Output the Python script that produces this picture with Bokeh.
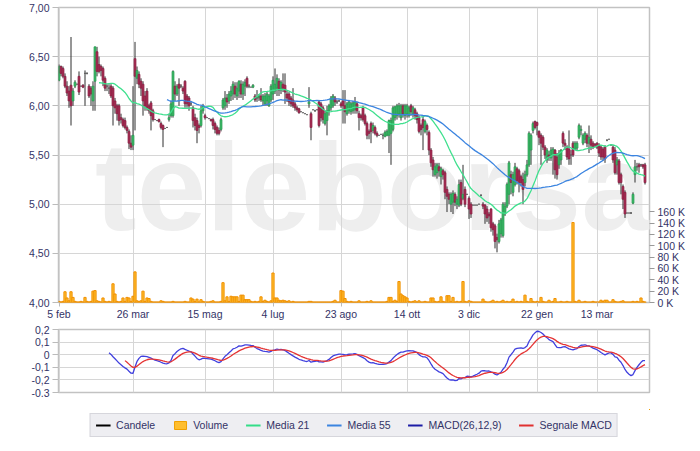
import numpy as np
from bokeh.plotting import figure
from bokeh.layouts import column
from bokeh.models import (ColumnDataSource, Range1d, LinearAxis, FixedTicker,
                          CustomJSTickFormatter, Label, Legend, LegendItem)
from bokeh.embed import file_html
from bokeh.resources import INLINE

# ---------------- data ----------------
date_ticks = [0, 37, 73, 107, 141, 174, 205, 239, 269]
date_labels = ["5 feb", "26 mar", "15 mag", "4 lug", "23 ago", "14 ott", "3 dic", "22 gen", "13 mar"]
price_ticks = [4.0, 4.5, 5.0, 5.5, 6.0, 6.5, 7.0]
volume_ticks = [0, 20, 40, 60, 80, 100, 120, 140, 160]
macd_ticks = [-0.3, -0.2, -0.1, 0.0, 0.1, 0.2]

open_ = [
    6.26, 6.40, 6.38, 6.30, 6.20, 6.15, 6.21, 6.05, 6.20, 6.22,
    6.30, 6.20, 6.21, 6.33, 6.33, 6.20, 6.18, 6.05, 6.25, 6.55,
    6.42, 6.40, 6.38, 6.28, 6.20, 6.18, 6.20, 6.18, 6.05, 6.00,
    6.00, 5.88, 5.86, 5.85, 5.78, 5.74, 5.62, 5.60, 6.48, 6.28,
    6.32, 6.25, 6.22, 6.10, 6.15, 6.00, 6.03, 5.95, 5.86, 5.85,
    5.86, 5.82, 5.80, 5.77, 5.78, 5.86, 5.90, 5.90, 6.20, 6.12,
    6.22, 6.20, 6.18, 6.25, 6.10, 6.08, 6.02, 5.98, 5.88, 5.85,
    5.80, 5.80, 5.95, 5.90, 5.88, 5.87, 5.86, 5.86, 5.82, 5.78,
    5.75, 5.76, 5.98, 6.00, 6.08, 6.05, 6.10, 6.12, 6.20, 6.10,
    6.15, 6.22, 6.12, 6.20, 6.28, 6.20, 6.19, 6.19, 6.10, 6.08,
    6.08, 6.10, 6.05, 6.02, 6.05, 6.00, 6.06, 6.12, 6.15, 6.18,
    6.25, 6.16, 6.22, 6.21, 6.12, 6.12, 6.08, 6.06, 6.02, 5.98,
    5.97, 5.94, 5.93, 5.92, 5.91, 6.02, 5.92, 5.96, 5.95, 5.96,
    6.04, 6.02, 5.98, 5.82, 5.85, 5.95, 5.98, 6.00, 6.08, 6.04,
    6.05, 6.02, 6.05, 6.00, 5.92, 5.95, 5.94, 5.95, 5.96, 6.02,
    5.92, 5.90, 5.98, 5.90, 5.82, 5.74, 5.82, 5.75, 5.78, 5.72,
    5.70, 5.71, 5.70, 5.69, 5.70, 5.70, 5.72, 5.76, 5.88, 5.90,
    5.92, 5.88, 6.00, 5.90, 5.92, 5.90, 6.00, 5.92, 5.96, 5.92,
    5.88, 5.80, 5.86, 5.74, 5.80, 5.73, 5.55, 5.45, 5.30, 5.32,
    5.38, 5.28, 5.34, 5.32, 5.15, 5.10, 5.00, 5.02, 5.10, 5.00,
    4.99, 5.22, 5.06, 5.15, 5.10, 5.06, 5.00, 4.99, 4.99, 4.99,
    5.00, 5.09, 5.00, 4.99, 4.95, 4.90, 4.95, 4.80, 4.78, 4.66,
    4.62, 4.70, 4.68, 4.90, 4.98, 5.10, 5.30, 5.12, 5.20, 5.36,
    5.34, 5.28, 5.25, 5.22, 5.30, 5.40, 5.55, 5.75, 5.84, 5.83,
    5.74, 5.70, 5.68, 5.58, 5.45, 5.50, 5.47, 5.50, 5.55, 5.48,
    5.40, 5.45, 5.72, 5.62, 5.58, 5.56, 5.50, 5.62, 5.56, 5.57,
    5.68, 5.75, 5.62, 5.66, 5.70, 5.62, 5.66, 5.62, 5.61, 5.62,
    5.60, 5.58, 5.56, 5.58, 5.65, 5.66, 5.60, 5.58, 5.55, 5.40,
    5.44, 5.30, 5.18, 5.12, 4.91, 4.91, 4.91, 5.01, 5.30, 5.38,
    5.40, 5.40, 5.40, 5.40,
]
high = [
    6.42, 6.41, 6.40, 6.33, 6.25, 6.20, 6.70, 6.18, 6.26, 6.22,
    6.35, 6.20, 6.22, 6.36, 6.34, 6.22, 6.20, 6.25, 6.60, 6.60,
    6.50, 6.42, 6.40, 6.30, 6.22, 6.22, 6.22, 6.20, 6.08, 6.02,
    6.02, 5.92, 5.88, 5.88, 5.80, 5.76, 5.70, 6.20, 6.65, 6.40,
    6.35, 6.28, 6.25, 6.15, 6.18, 6.02, 6.05, 5.97, 5.86, 5.85,
    5.87, 5.84, 5.81, 5.77, 5.78, 5.92, 6.05, 6.36, 6.25, 6.22,
    6.28, 6.22, 6.20, 6.26, 6.12, 6.10, 6.05, 6.00, 5.92, 5.88,
    5.82, 6.00, 6.02, 5.92, 5.88, 5.87, 5.87, 5.88, 5.84, 5.80,
    5.78, 5.88, 6.08, 6.15, 6.12, 6.15, 6.20, 6.25, 6.24, 6.24,
    6.26, 6.26, 6.25, 6.27, 6.30, 6.22, 6.19, 6.22, 6.12, 6.16,
    6.12, 6.18, 6.12, 6.13, 6.14, 6.12, 6.22, 6.30, 6.38, 6.32,
    6.28, 6.26, 6.33, 6.33, 6.15, 6.14, 6.10, 6.18, 6.04, 6.00,
    5.98, 5.94, 5.93, 5.92, 5.91, 6.19, 5.94, 5.96, 5.96, 5.96,
    6.06, 6.04, 6.00, 5.95, 6.00, 6.02, 6.10, 6.12, 6.10, 6.06,
    6.06, 6.04, 6.16, 6.16, 6.04, 6.06, 6.04, 6.05, 6.09, 6.04,
    5.95, 5.92, 6.00, 5.92, 5.84, 5.76, 5.84, 5.83, 5.80, 5.74,
    5.70, 5.71, 5.72, 5.75, 5.76, 5.86, 5.88, 6.00, 6.00, 6.02,
    6.03, 6.02, 6.02, 6.02, 6.02, 6.00, 6.02, 6.00, 5.98, 5.94,
    5.90, 5.82, 5.89, 5.86, 5.82, 5.75, 5.57, 5.48, 5.42, 5.42,
    5.42, 5.38, 5.36, 5.34, 5.18, 5.12, 5.12, 5.14, 5.12, 5.08,
    5.25, 5.25, 5.40, 5.18, 5.10, 5.08, 5.02, 4.99, 4.99, 4.99,
    5.00, 5.10, 5.02, 5.00, 4.98, 4.92, 4.96, 4.82, 4.80, 4.70,
    4.84, 4.86, 5.02, 5.02, 5.22, 5.44, 5.34, 5.33, 5.42, 5.38,
    5.36, 5.30, 5.32, 5.34, 5.45, 5.74, 5.72, 5.84, 5.85, 5.84,
    5.75, 5.72, 5.70, 5.60, 5.57, 5.54, 5.58, 5.58, 5.56, 5.52,
    5.55, 5.56, 5.74, 5.66, 5.60, 5.75, 5.55, 5.64, 5.64, 5.64,
    5.82, 5.80, 5.72, 5.74, 5.72, 5.80, 5.70, 5.64, 5.62, 5.63,
    5.62, 5.60, 5.58, 5.60, 5.66, 5.66, 5.60, 5.60, 5.58, 5.48,
    5.46, 5.32, 5.20, 5.14, 4.91, 4.91, 4.92, 5.12, 5.45, 5.42,
    5.42, 5.41, 5.41, 5.42,
]
low = [
    6.25, 6.30, 6.28, 6.18, 6.10, 5.98, 5.80, 6.00, 6.18, 6.22,
    6.11, 6.20, 6.18, 6.00, 6.32, 6.08, 6.00, 5.95, 5.95, 6.30,
    6.33, 6.30, 6.20, 6.15, 6.15, 6.12, 6.08, 5.80, 5.92, 5.85,
    5.80, 5.82, 5.78, 5.76, 5.72, 5.56, 5.55, 5.55, 5.75, 6.22,
    6.18, 6.10, 5.90, 5.95, 5.95, 5.92, 5.75, 5.84, 5.86, 5.85,
    5.83, 5.76, 5.58, 5.77, 5.78, 5.84, 5.88, 5.88, 6.05, 6.10,
    6.00, 6.18, 6.12, 5.98, 5.98, 5.95, 6.00, 5.78, 5.75, 5.62,
    5.72, 5.78, 5.92, 5.86, 5.88, 5.87, 5.84, 5.76, 5.72, 5.70,
    5.70, 5.74, 5.96, 5.96, 5.98, 6.02, 6.05, 6.06, 6.08, 6.06,
    6.08, 6.08, 6.06, 6.10, 6.18, 6.18, 6.19, 6.18, 6.04, 6.04,
    6.05, 6.04, 6.00, 6.00, 6.00, 5.99, 6.04, 6.06, 6.12, 6.10,
    6.10, 6.12, 6.14, 6.02, 6.04, 6.00, 5.99, 5.98, 5.95, 5.94,
    5.92, 5.94, 5.93, 5.92, 5.91, 5.98, 5.65, 5.96, 5.94, 5.96,
    5.78, 5.84, 5.82, 5.80, 5.70, 5.90, 5.95, 5.98, 6.00, 6.02,
    6.04, 5.98, 5.82, 5.82, 5.90, 5.92, 5.91, 5.92, 5.92, 5.92,
    5.75, 5.85, 5.84, 5.80, 5.66, 5.66, 5.62, 5.72, 5.70, 5.68,
    5.70, 5.71, 5.66, 5.68, 5.69, 5.52, 5.40, 5.74, 5.85, 5.86,
    5.88, 5.85, 5.88, 5.86, 5.88, 5.88, 5.90, 5.88, 5.86, 5.82,
    5.72, 5.70, 5.55, 5.72, 5.70, 5.50, 5.38, 5.28, 5.28, 5.26,
    5.28, 5.20, 5.25, 5.05, 4.92, 5.00, 4.92, 4.90, 4.98, 4.95,
    4.97, 4.98, 5.04, 4.97, 5.10, 4.85, 4.86, 4.99, 4.99, 4.99,
    5.00, 5.08, 4.95, 4.80, 4.82, 4.80, 4.72, 4.68, 4.55, 4.51,
    4.60, 4.66, 4.66, 4.88, 4.96, 5.00, 5.10, 5.08, 5.18, 5.20,
    5.12, 5.18, 5.00, 5.18, 5.28, 5.38, 5.40, 5.72, 5.76, 5.70,
    5.60, 5.40, 5.55, 5.46, 5.42, 5.44, 5.44, 5.30, 5.26, 5.25,
    5.36, 5.40, 5.58, 5.55, 5.45, 5.40, 5.40, 5.48, 5.55, 5.55,
    5.66, 5.70, 5.60, 5.62, 5.58, 5.52, 5.55, 5.56, 5.58, 5.56,
    5.48, 5.45, 5.44, 5.42, 5.64, 5.66, 5.60, 5.42, 5.30, 5.30,
    5.20, 5.10, 4.95, 4.86, 4.91, 4.91, 4.90, 5.00, 5.22, 5.34,
    5.32, 5.38, 5.36, 5.20,
]
close = [
    6.40, 6.33, 6.30, 6.20, 6.13, 6.05, 6.00, 6.15, 6.24, 6.22,
    6.14, 6.20, 6.19, 6.33, 6.33, 6.10, 6.12, 6.20, 6.60, 6.35,
    6.35, 6.36, 6.26, 6.18, 6.20, 6.18, 6.10, 6.00, 5.98, 5.92,
    5.85, 5.86, 5.80, 5.78, 5.75, 5.62, 5.58, 5.70, 6.30, 6.36,
    6.22, 6.18, 6.05, 6.00, 5.98, 5.95, 5.90, 5.86, 5.86, 5.85,
    5.84, 5.78, 5.76, 5.77, 5.78, 5.88, 6.02, 6.35, 6.12, 6.20,
    6.18, 6.20, 6.15, 6.02, 6.02, 6.00, 6.02, 5.85, 5.80, 5.75,
    5.78, 5.95, 6.00, 5.88, 5.88, 5.87, 5.85, 5.80, 5.76, 5.72,
    5.72, 5.86, 6.06, 6.08, 6.04, 6.12, 6.15, 6.22, 6.12, 6.18,
    6.25, 6.12, 6.22, 6.24, 6.20, 6.20, 6.19, 6.21, 6.06, 6.08,
    6.10, 6.06, 6.10, 6.10, 6.12, 6.10, 6.20, 6.26, 6.22, 6.28,
    6.16, 6.24, 6.18, 6.14, 6.08, 6.04, 6.02, 6.00, 5.98, 5.96,
    5.93, 5.94, 5.93, 5.92, 5.91, 6.04, 5.78, 5.96, 5.95, 5.96,
    5.80, 5.88, 5.86, 5.92, 5.95, 6.00, 6.08, 6.10, 6.04, 6.04,
    6.05, 6.00, 6.00, 5.94, 6.02, 6.04, 6.02, 6.03, 6.04, 5.95,
    5.88, 5.88, 5.86, 5.82, 5.70, 5.72, 5.74, 5.80, 5.72, 5.70,
    5.70, 5.71, 5.70, 5.73, 5.74, 5.85, 5.85, 5.98, 5.99, 6.00,
    6.00, 6.00, 5.92, 6.00, 6.00, 5.98, 5.94, 5.98, 5.90, 5.86,
    5.74, 5.76, 5.78, 5.84, 5.76, 5.55, 5.42, 5.35, 5.38, 5.40,
    5.34, 5.36, 5.30, 5.12, 5.08, 5.05, 5.10, 5.11, 5.02, 5.05,
    5.20, 5.00, 5.10, 5.00, 5.10, 4.95, 4.90, 4.99, 4.99, 4.99,
    5.00, 5.09, 4.98, 4.90, 4.86, 4.88, 4.76, 4.74, 4.62, 4.64,
    4.80, 4.84, 5.00, 4.98, 5.20, 5.42, 5.22, 5.30, 5.38, 5.24,
    5.22, 5.22, 5.15, 5.30, 5.40, 5.72, 5.70, 5.82, 5.78, 5.80,
    5.68, 5.62, 5.58, 5.50, 5.55, 5.48, 5.55, 5.56, 5.35, 5.30,
    5.52, 5.55, 5.62, 5.60, 5.48, 5.46, 5.50, 5.50, 5.62, 5.62,
    5.80, 5.76, 5.70, 5.72, 5.62, 5.68, 5.60, 5.58, 5.60, 5.58,
    5.52, 5.48, 5.48, 5.46, 5.65, 5.66, 5.60, 5.45, 5.32, 5.45,
    5.22, 5.22, 5.05, 4.90, 4.91, 4.91, 4.91, 5.10, 5.38, 5.38,
    5.38, 5.40, 5.38, 5.22,
]
volume_k = [
    2, 1, 2, 19, 8, 3, 19, 9, 2, 1,
    1, 2, 1, 9, 2, 1, 2, 20, 21, 3,
    2, 1, 8, 2, 1, 2, 1, 33, 15, 2,
    1, 2, 8, 2, 9, 8, 2, 11, 54, 3,
    2, 3, 20, 2, 8, 7, 2, 1, 1, 1,
    1, 3, 2, 1, 1, 1, 1, 2, 1, 1,
    1, 1, 1, 2, 1, 1, 8, 6, 2, 6,
    1, 5, 2, 1, 1, 1, 2, 3, 1, 1,
    1, 2, 35, 3, 10, 2, 11, 10, 10, 10,
    2, 13, 13, 5, 5, 5, 2, 1, 2, 1,
    2, 10, 2, 4, 2, 1, 3, 52, 8, 8,
    4, 3, 4, 3, 2, 3, 1, 2, 1, 1,
    1, 1, 1, 1, 1, 2, 2, 1, 1, 1,
    1, 1, 1, 1, 1, 1, 1, 2, 4, 1,
    1, 21, 20, 7, 2, 1, 2, 1, 1, 1,
    3, 1, 1, 1, 2, 1, 3, 1, 1, 1,
    1, 1, 1, 1, 2, 9, 9, 2, 4, 2,
    37, 15, 12, 10, 8, 2, 1, 2, 3, 1,
    3, 1, 1, 2, 1, 1, 8, 8, 2, 1,
    2, 10, 2, 1, 12, 12, 2, 9, 1, 2,
    1, 2, 37, 2, 1, 3, 2, 1, 1, 1,
    1, 1, 6, 2, 1, 1, 2, 4, 1, 2,
    1, 2, 4, 1, 2, 1, 2, 6, 1, 2,
    1, 2, 1, 13, 2, 1, 7, 2, 1, 2,
    1, 9, 2, 1, 1, 4, 1, 2, 7, 1,
    1, 2, 1, 1, 2, 1, 1, 141, 2, 1,
    4, 1, 1, 2, 1, 1, 1, 2, 1, 1,
    1, 4, 2, 4, 4, 1, 1, 5, 2, 1,
    1, 2, 3, 1, 1, 1, 1, 2, 1, 2,
    1, 8, 2, 1,
]

# ---------------- derived series ----------------
n = min(len(open_), len(high), len(low), len(close), len(volume_k))
idx = np.arange(n)
o = np.array(open_[:n], float)
h = np.array(high[:n], float)
l = np.array(low[:n], float)
c = np.array(close[:n], float)
v = np.array(volume_k[:n], float)


def sma(a, w):
    out = np.full(len(a), np.nan)
    for k in range(w - 1, len(a)):
        out[k] = a[k - w + 1:k + 1].mean()
    return out


def ema(a, w):
    out = np.full(len(a), np.nan)
    valid = np.where(~np.isnan(a))[0]
    if len(valid) == 0:
        return out
    s = valid[0]
    if len(a) - s < w:
        return out
    out[s + w - 1] = np.mean(a[s:s + w])
    alpha = 2.0 / (w + 1)
    for k in range(s + w, len(a)):
        out[k] = alpha * a[k] + (1 - alpha) * out[k - 1]
    return out


ma21 = sma(c, 21)
ma55 = sma(c, 55)
macd = ema(c, 12) - ema(c, 26)
signal = ema(macd, 9)

UP_FILL, UP_LINE = "#3CBA68", "#2A9A52"
DN_FILL, DN_LINE = "#A82E55", "#861F43"
EQ_COL = "#5A5A5A"
fills, lines_ = [], []
for oo, cc in zip(o, c):
    if cc > oo:
        fills.append(UP_FILL); lines_.append(UP_LINE)
    elif cc < oo:
        fills.append(DN_FILL); lines_.append(DN_LINE)
    else:
        fills.append(EQ_COL); lines_.append(EQ_COL)

src = ColumnDataSource(dict(
    x=idx, o=o, h=h, l=l, c=c, v=v,
    top=np.maximum(o, c), bottom=np.minimum(o, c),
    fill=fills, line=lines_, ma21=ma21, ma55=ma55, macd=macd, signal=signal,
))

FONT = "Liberation Sans"
LBL = "#333366"
GRID = "#D6D6D6"
BORDER = "#C2C2C2"

xr = Range1d(-0.25, 295.25)

# ---------------- main price panel ----------------
p1 = figure(width=692, height=322, x_range=xr, y_range=Range1d(4.0, 7.0),
            output_backend="svg", toolbar_location=None,
            min_border_left=58, min_border_right=43, min_border_top=7, min_border_bottom=19)
p1.outline_line_color = BORDER
p1.outline_line_width = 1.5
p1.background_fill_color = "white"
p1.border_fill_color = "white"

wm = Label(x=18, y=4.47, text="teleborsa", text_font=FONT, text_font_size="125px",
           text_font_style="bold", text_color="#EEEEEE", level="image")
p1.add_layout(wm)

p1.extra_y_ranges = {"vol": Range1d(0, 520)}

p1.xaxis.ticker = FixedTicker(ticks=date_ticks)
p1.xaxis.major_label_overrides = {t: s for t, s in zip(date_ticks, date_labels)}
p1.xgrid.ticker = FixedTicker(ticks=date_ticks)
p1.yaxis.ticker = FixedTicker(ticks=price_ticks)
p1.ygrid.ticker = FixedTicker(ticks=price_ticks)
p1.yaxis.formatter = CustomJSTickFormatter(code="return tick.toFixed(2).replace('.', ',');")
for ax in (p1.xaxis, p1.yaxis):
    ax.axis_line_color = None
    ax.major_tick_line_color = "#BBBBBB"
    ax.major_tick_in = 0
    ax.minor_tick_line_color = None
    ax.major_label_text_font = FONT
    ax.major_label_text_font_size = "10.5px"
    ax.major_label_text_color = LBL
p1.xaxis.major_tick_out = 4
p1.xaxis.major_label_standoff = 1
p1.yaxis.major_tick_out = 6
p1.yaxis.major_label_standoff = 3
p1.grid.grid_line_color = GRID

vax = LinearAxis(y_range_name="vol", ticker=FixedTicker(ticks=volume_ticks),
                 formatter=CustomJSTickFormatter(code="return tick.toFixed(0) + ' K';"))
vax.axis_line_color = None
vax.major_tick_line_color = "#999999"
vax.major_tick_in = 0
vax.major_tick_out = 5
vax.minor_tick_line_color = None
vax.major_label_standoff = 3
vax.major_label_text_font = FONT
vax.major_label_text_font_size = "10.5px"
vax.major_label_text_color = LBL
p1.add_layout(vax, "right")

p1.vbar(x="x", top="v", bottom=0, width=1.1, source=src, y_range_name="vol",
        fill_color="#FFBE2E", line_color="#F08F00", line_width=1)
p1.segment(x0="x", y0="l", x1="x", y1="h", source=src, line_color="#2E2E2E", line_width=1)
p1.vbar(x="x", top="top", bottom="bottom", width=1.0, source=src,
        fill_color="fill", line_color="line", line_width=0.7)
p1.line("x", "ma21", source=src, line_color="#3FE08E", line_width=1.3)
p1.line("x", "ma55", source=src, line_color="#3B84E0", line_width=1.3)

# ---------------- MACD panel ----------------
p2 = figure(width=692, height=75, x_range=xr, y_range=Range1d(-0.3, 0.2),
            output_backend="svg", toolbar_location=None, x_axis_location=None,
            min_border_left=58, min_border_right=43, min_border_top=7, min_border_bottom=5)
p2.outline_line_color = BORDER
p2.outline_line_width = 1.5
p2.xgrid.ticker = FixedTicker(ticks=date_ticks)
p2.yaxis.ticker = FixedTicker(ticks=macd_ticks)
p2.ygrid.ticker = FixedTicker(ticks=macd_ticks)
p2.yaxis.formatter = CustomJSTickFormatter(
    code="if (Math.abs(tick) < 1e-9) { return '0'; } return tick.toFixed(1).replace('.', ',');")
p2.yaxis.axis_line_color = None
p2.yaxis.major_tick_line_color = "#BBBBBB"
p2.yaxis.major_tick_in = 0
p2.yaxis.major_tick_out = 6
p2.yaxis.minor_tick_line_color = None
p2.yaxis.major_label_standoff = 3
p2.yaxis.major_label_text_font = FONT
p2.yaxis.major_label_text_font_size = "10.5px"
p2.yaxis.major_label_text_color = LBL
p2.grid.grid_line_color = GRID
p2.line("x", "macd", source=src, line_color="#4040DE", line_width=1.3)
p2.line("x", "signal", source=src, line_color="#E53434", line_width=1.3)

# ---------------- legend panel (series drawn outside its ranges: only the keys show) ----------------
p3 = figure(width=692, height=44, x_range=Range1d(-10, -9), y_range=Range1d(-10, -9),
            output_backend="svg", toolbar_location=None,
            x_axis_location=None, y_axis_location=None,
            min_border_left=58, min_border_right=43, min_border_top=12, min_border_bottom=0)
p3.outline_line_color = None
p3.grid.visible = False
r_c = p3.line("x", "c", source=src, line_color="black", line_width=2)
r_v = p3.vbar(x="x", top="h", bottom="l", width=1, source=src,
              fill_color="#FFBE2E", line_color="#F0A000")
r_m21 = p3.line("x", "ma21", source=src, line_color="#33DD88", line_width=2)
r_m55 = p3.line("x", "ma55", source=src, line_color="#3B84E0", line_width=2)
r_macd = p3.line("x", "macd", source=src, line_color="#1C1CA6", line_width=2)
r_sig = p3.line("x", "signal", source=src, line_color="#E03030", line_width=2)
legend = Legend(items=[
    LegendItem(label="Candele", renderers=[r_c]),
    LegendItem(label="Volume", renderers=[r_v]),
    LegendItem(label="Media 21", renderers=[r_m21]),
    LegendItem(label="Media 55", renderers=[r_m55]),
    LegendItem(label="MACD(26,12,9)", renderers=[r_macd]),
    LegendItem(label="Segnale MACD", renderers=[r_sig]),
], orientation="horizontal", location="center", margin=0, padding=5,
    spacing=17, glyph_width=15, glyph_height=10, label_height=12, label_standoff=6,
    label_text_font=FONT, label_text_font_size="10.5px", label_text_color=LBL,
    border_line_color="#BDBDC6", background_fill_color="#EEEEF2", background_fill_alpha=1.0)
p3.add_layout(legend, "center")

layout = column(p1, p2, p3)
open("out.html", "w").write(file_html(layout, INLINE))
